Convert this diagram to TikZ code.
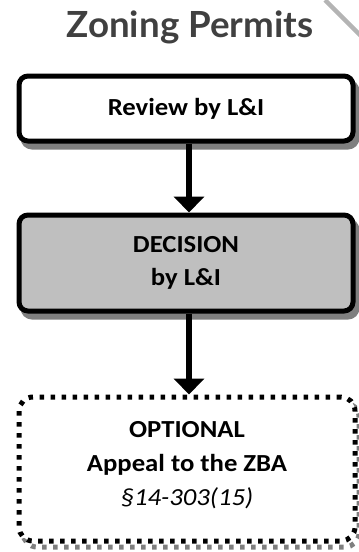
\documentclass[tikz,border=0pt]{standalone}
\usepackage{fontspec}
\setmainfont{Carlito}[FakeStretch=1.09]
\newfontfamily\titlefont{Lato}[FakeStretch=1.02]
\usetikzlibrary{arrows.meta}
\definecolor{shadowgray}{HTML}{7F7F7F}
\definecolor{boxgray}{HTML}{BFBFBF}
\definecolor{titlegray}{HTML}{404040}
\definecolor{linegray}{HTML}{B4B4B4}
\tikzset{
  flowbox/.style={draw=black, line width=5pt, rounded corners=9pt, fill=white,
    align=center, font=\bfseries\fontsize{24.5}{33}\selectfont, inner sep=0pt,
    preaction={draw=shadowgray, fill=shadowgray, line width=5pt,
      transform canvas={shift={(4pt,-6pt)}}}},
  dottedbox/.style={draw=black, line width=5pt, rounded corners=14pt, fill=white,
    dash pattern=on 4.5pt off 6.5pt,
    align=center, font=\fontsize{24.5}{34}\selectfont, inner sep=0pt,
    preaction={draw=shadowgray, line width=5pt, dash pattern=on 4.5pt off 6.5pt,
      transform canvas={shift={(4pt,-6pt)}}}},
  flowarrow/.style={line width=6pt, -{Triangle[width=30pt,length=16pt]}},
}
\begin{document}
\begin{tikzpicture}[x=1pt,y=-1pt]
\useasboundingbox (0,0) rectangle (359,552);
\begin{scope}
\clip (0,0) rectangle (359,552);
\draw[linegray, line width=4.5pt] (325,0) -- (362,37);
\end{scope}
\node[font=\titlefont\bfseries\fontsize{36}{40}\selectfont, text=titlegray, anchor=base] (title) at (190,37) {Zoning Permits};
\node[flowbox, minimum width=334pt, minimum height=65pt] (review) at (186,108.5) {Review by L\&I};
\node[flowbox, fill=boxgray, minimum width=334pt, minimum height=96pt] (decision) at (186,263) {DECISION\\by L\&I};
\node[dottedbox, minimum width=336pt, minimum height=144pt] (appeal) at (187,469) {\textbf{OPTIONAL}\\\textbf{Appeal to the ZBA}\\\textit{§14-303(15)}\\[-22pt]\mbox{}};
\draw[flowarrow] ([xshift=3pt]review.south) -- ([xshift=3pt]decision.north);
\draw[flowarrow] ([xshift=3pt]decision.south) -- ([xshift=2pt]appeal.north);
\end{tikzpicture}
\end{document}
